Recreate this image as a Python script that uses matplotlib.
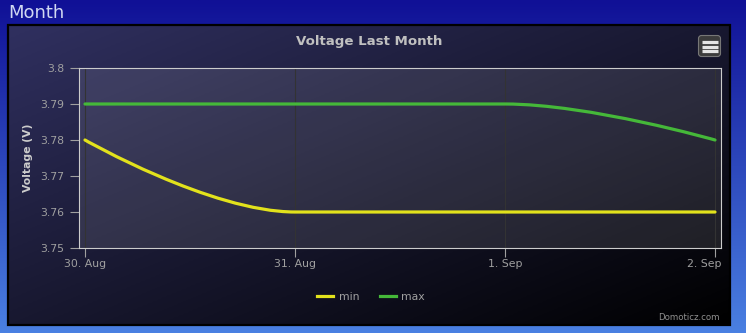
import numpy as np
import matplotlib
matplotlib.use("Agg")
import matplotlib.pyplot as plt
import matplotlib.transforms as mtransforms
from matplotlib.path import Path
from matplotlib.patches import PathPatch, Rectangle, FancyBboxPatch
from matplotlib.lines import Line2D
from matplotlib.ticker import FuncFormatter

# ---- data -------------------------------------------------------------
day_labels = ["30. Aug", "31. Aug", "1. Sep", "2. Sep"]
min_voltage = [3.78, 3.76, 3.76, 3.76]
max_voltage = [3.79, 3.79, 3.79, 3.78]
y_ticks = [3.75, 3.76, 3.77, 3.78, 3.79, 3.80]

W, H = 746, 333
fig = plt.figure(figsize=(W / 100, H / 100), dpi=100)

# ---- page and panel backgrounds (pixel coordinates) --------------------
bg = fig.add_axes([0, 0, 1, 1])
bg.set_xlim(0, W)
bg.set_ylim(H, 0)
bg.axis("off")

top = np.array([16, 16, 150]) / 255
bottom = np.array([74, 128, 226]) / 255
t = np.linspace(0, 1, 200)[:, None, None]
page = top + (bottom - top) * t
page = np.repeat(page, 2, axis=1)
bg.imshow(page, extent=[0, W, H, 0], aspect="auto", zorder=0)

px0, px1, py0, py1 = 8, 730, 25, 325
gx, gy = np.meshgrid(np.linspace(0, 1, 300), np.linspace(0, 1, 150))
f = np.clip((gx + gy) / 2, 0, 1)[..., None]
c0 = np.array([48, 48, 96]) / 255
c1 = np.array([0, 0, 0]) / 255
panel = c0 + (c1 - c0) * f
bg.imshow(panel, extent=[px0, px1, py1, py0], aspect="auto", zorder=1)
bg.add_patch(Rectangle((px0, py0), px1 - px0, py1 - py0, fill=False,
                       edgecolor="#000000", lw=1.6, zorder=2))

# Page heading and chart title
bg.text(8, 13, "Month", color="#d0d8f2", fontsize=13, va="center", ha="left", zorder=3)
bg.text(369, 42, "Voltage Last Month", color="#C0C0C0", fontsize=9.6,
        fontweight="bold", ha="center", va="center", zorder=3)
bg.text(28, 158, "Voltage (V)", color="#CCCCCC", fontsize=7.8, fontweight="bold",
        rotation=90, ha="center", va="center", zorder=3)
bg.text(720, 317, "Domoticz.com", color="#909090", fontsize=6.2,
        ha="right", va="center", zorder=3)

# Export menu button
bg.add_patch(FancyBboxPatch((698.5, 35.5), 22, 21, boxstyle="round,pad=0,rounding_size=3",
                            facecolor="#3c3c3c", edgecolor="#777777", lw=0.8, zorder=3))
for yy in (41.8, 46.5, 51.2):
    bg.plot([701.5, 717.5], [yy, yy], color="#e4e4e4", lw=2.3,
            solid_capstyle="butt", zorder=4)

# ---- plot area ----------------------------------------------------------
L, R, T, B = 79, 721, 68, 248
ax = fig.add_axes([L / W, (H - B) / H, (R - L) / W, (B - T) / H])
ax.set_facecolor((1, 1, 1, 0.1))

x = np.arange(len(day_labels), dtype=float)
pad = 6 / 210
ax.set_xlim(x[0] - pad, x[-1] + pad)
ax.set_ylim(y_ticks[0], y_ticks[-1])


def spline_path(xs, ys, smoothing=1.5):
    """Cubic bezier path through the points, Highcharts-style spline."""
    n = len(xs)
    left = [None] * n
    right = [None] * n
    denom = smoothing + 1
    for i in range(1, n - 1):
        lx, ly = xs[i - 1], ys[i - 1]
        nx, ny = xs[i + 1], ys[i + 1]
        px, py = xs[i], ys[i]
        lcx = (smoothing * px + lx) / denom
        lcy = (smoothing * py + ly) / denom
        rcx = (smoothing * px + nx) / denom
        rcy = (smoothing * py + ny) / denom
        if rcx != lcx:
            corr = ((rcy - lcy) * (rcx - px)) / (rcx - lcx) + py - rcy
            lcy += corr
            rcy += corr
        if lcy > ly and lcy > py:
            lcy = max(ly, py)
            rcy = 2 * py - lcy
        elif lcy < ly and lcy < py:
            lcy = min(ly, py)
            rcy = 2 * py - lcy
        if rcy > py and rcy > ny:
            rcy = max(py, ny)
            lcy = 2 * py - rcy
        elif rcy < py and rcy < ny:
            rcy = min(py, ny)
            lcy = 2 * py - rcy
        left[i] = (lcx, lcy)
        right[i] = (rcx, rcy)
    verts = [(xs[0], ys[0])]
    codes = [Path.MOVETO]
    for i in range(1, n):
        c1 = right[i - 1] or (xs[i - 1], ys[i - 1])
        c2 = left[i] or (xs[i], ys[i])
        verts += [c1, c2, (xs[i], ys[i])]
        codes += [Path.CURVE4] * 3
    return Path(verts, codes)


series = [("min", min_voltage, "#e2e21c"), ("max", max_voltage, "#45b839")]
handles = []
for name, vals, color in series:
    ax.add_patch(PathPatch(spline_path(x, vals), fill=False, edgecolor=color,
                           lw=2.3, capstyle="round", joinstyle="round", zorder=3))
    handles.append(Line2D([], [], color=color, lw=2.3, label=name))

# axes styling
ax.set_xticks(x)
ax.set_xticklabels(day_labels)
ax.set_yticks(y_ticks)
ax.yaxis.set_major_formatter(FuncFormatter(lambda v, _: f"{v:.2f}".rstrip("0").rstrip(".")))
ax.grid(axis="x", color="#333333", lw=0.8)
ax.set_axisbelow(True)
for s in ax.spines.values():
    s.set_color("#CCCCCC")
    s.set_linewidth(0.8)
ax.tick_params(axis="both", colors="#A0A0A0", labelcolor="#A0A0A0",
               labelsize=7.8, length=6.5, width=0.8)
ax.tick_params(axis="y", pad=4)
ax.tick_params(axis="x", pad=1.5)

# keep the last date label inside the plot edge
last = ax.get_xticklabels()[-1]
last.set_horizontalalignment("right")
last.set_transform(last.get_transform() +
                   mtransforms.ScaledTranslation(6 / 100, 0, fig.dpi_scale_trans))

leg = fig.legend(handles=handles, loc="center", bbox_to_anchor=(371 / W, 1 - 297 / H),
                 ncol=2, frameon=False, fontsize=7.8, handlelength=1.5,
                 handletextpad=0.5, columnspacing=1.9, labelcolor="#A0A0A0")

fig.savefig("out.png", dpi=100)
